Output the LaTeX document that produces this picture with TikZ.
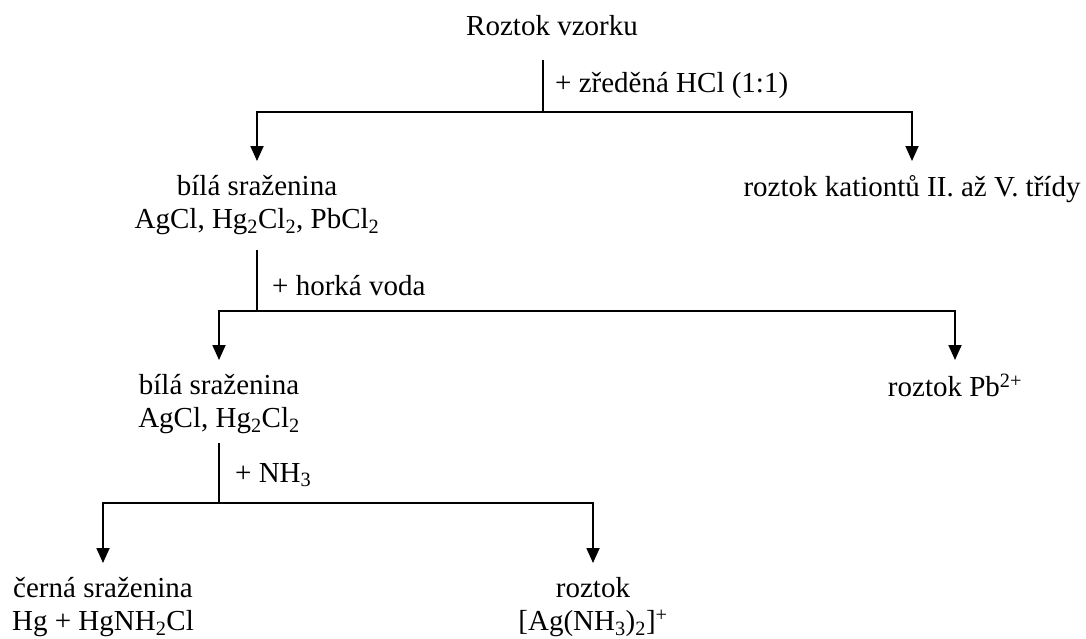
\documentclass[tikz,border=0pt]{standalone}
\usepackage{fontspec}
\setmainfont{Liberation Serif}
\usetikzlibrary{arrows.meta}

\tikzset{
  txt/.style={font=\fontsize{29}{33}\selectfont, inner sep=0pt},
  vysledek/.style={txt, align=center, anchor=north, inner xsep=0pt, inner ysep=14pt, outer sep=0pt},
  cinidlo/.style={txt, anchor=base west},
  stem/.style={line width=1.3pt},
  arr/.style={line width=1.8pt, -{Triangle[length=15pt,width=13pt]}}
}

\begin{document}
\begin{tikzpicture}[x=1pt,y=-1pt]
            \useasboundingbox (0,0) rectangle (1086,638);
            \node[txt, anchor=base] (vzorek) at (552,35) {Roztok vzorku};
            \coordinate (v1) at (543,60);
            \coordinate (r1) at (543,112);
            \node[cinidlo] (c1) at (555,92) {+ zředěná HCl (1:1)};
            \node[vysledek] (bila1) at (257,161) {bílá sraženina\\AgCl, Hg\textsubscript{2}Cl\textsubscript{2}, PbCl\textsubscript{2}};
            \node[vysledek] (kation) at (912,161) {roztok kationtů II. až V. třídy};
            \draw[stem] (v1) -- (r1);
            \draw[arr] (r1) -| (bila1);
            \draw[arr] (r1) -| (kation);

            \coordinate (v2) at (257,250);
            \coordinate (r2) at (257,311);
            \node[cinidlo] (c2) at (272,295) {+ horká voda};
            \node[vysledek] (bila2) at (219,360) {bílá sraženina\\AgCl, Hg\textsubscript{2}Cl\textsubscript{2}};
            \node[vysledek] (olovo) at (955,360) {roztok Pb\textsuperscript{2+}};
            \draw[stem] (v2) -- (r2);
            \draw[arr] (r2) -| (bila2);
            \draw[arr] (r2) -| (olovo);

            \coordinate (v3) at (219,443);
            \coordinate (r3) at (219,503);
            \node[cinidlo] (c3) at (235,482) {+ NH\textsubscript{3}};
            \node[vysledek] (cerna) at (103,563) {černá sraženina\\Hg + HgNH\textsubscript{2}Cl};
            \node[vysledek] (stribro) at (593,563) {roztok\\{[}Ag(NH\textsubscript{3})\textsubscript{2}{]}\textsuperscript{+}};
            \draw[stem] (v3) -- (r3);
            \draw[arr] (r3) -| (cerna);
            \draw[arr] (r3) -| (stribro);
        \end{tikzpicture}
\end{document}
